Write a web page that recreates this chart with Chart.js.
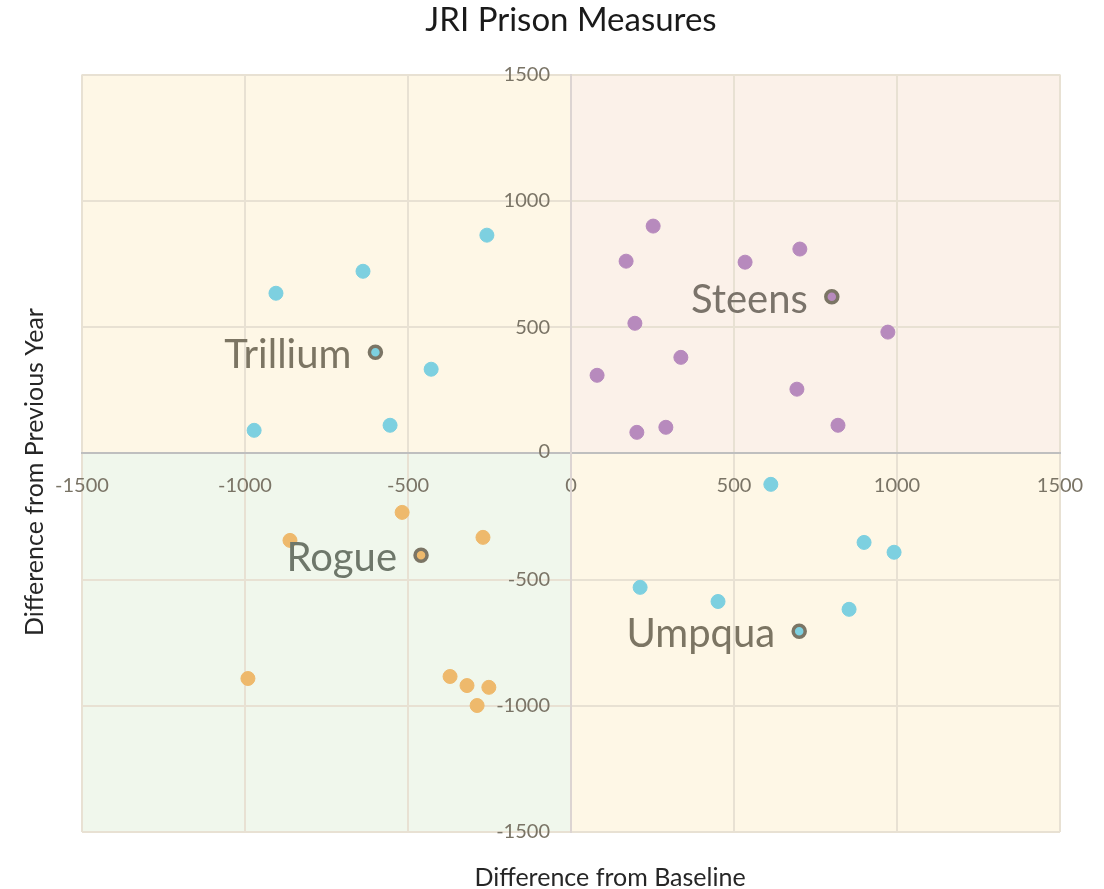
<!DOCTYPE html>
<html>
<head>
<meta charset="utf-8">
<script src="https://cdn.jsdelivr.net/npm/chart.js@4"></script>
<style>
  body { margin: 0; background: #fff; }
  #wrap { width: 1104px; height: 889px; }
</style>
</head>
<body>
<div id="wrap"><canvas id="quadChart"></canvas></div>
<script>
// region points
var trilliumX = [-905, -638, -258, -429, -555, -972];
var trilliumY = [634, 721, 864, 333, 111, 91];
var steensX = [252, 169, 534, 702, 196, 972, 337, 80, 693, 202, 291, 819];
var steensY = [900, 761, 757, 809, 515, 480, 380, 309, 254, 83, 103, 111];
var rogueX = [-518, -862, -270, -991, -371, -319, -252, -288];
var rogueY = [-234, -345, -333, -892, -884, -920, -927, -999];
var umpquaX = [613, 899, 991, 212, 451, 853];
var umpquaY = [-123, -353, -392, -531, -587, -618];

// region centres
var regionNames = ["Trillium", "Steens", "Rogue", "Umpqua"];
var centerX = [-600, 800, -460, 700];
var centerY = [400, 620, -404, -705];

var axisTicks = [-1500, -1000, -500, 0, 500, 1000, 1500];

var cyan = "#7dd0e0";
var purple = "#b78abd";
var orange = "#eeb96c";
var ring = "#7b7565";
var tickColor = "#7a7466";
var labelColors = ["#7c7563", "#7a736a", "#6e776a", "#7c7563"];
var fontName = "Lato, 'Noto Sans', sans-serif";

function toPoints(xs, ys) {
  return xs.map(function (x, i) { return { x: x, y: ys[i] }; });
}

var quadrants = {
  id: "quadrants",
  beforeDraw: function (chart) {
    var c = chart.ctx, a = chart.chartArea;
    var x0 = chart.scales.x.getPixelForValue(0);
    var y0 = chart.scales.y.getPixelForValue(0);
    c.save();
    c.fillStyle = "#fef7e6"; c.fillRect(a.left, a.top, x0 - a.left, y0 - a.top);
    c.fillStyle = "#fbf1e9"; c.fillRect(x0, a.top, a.right - x0, y0 - a.top);
    c.fillStyle = "#f0f7ec"; c.fillRect(a.left, y0, x0 - a.left, a.bottom - y0);
    c.fillStyle = "#fef7e6"; c.fillRect(x0, y0, a.right - x0, a.bottom - y0);
    c.restore();
  },
  afterDatasetsDraw: function (chart) {
    var c = chart.ctx;
    var ys = chart.scales.y;
    var x0 = chart.scales.x.getPixelForValue(0);
    c.save();
    // y tick labels, left of the vertical axis
    c.font = "20px " + fontName;
    c.fillStyle = tickColor;
    c.textAlign = "right";
    c.textBaseline = "middle";
    ys.ticks.forEach(function (t) {
      c.fillText(String(t.value), x0 - 21, ys.getPixelForValue(t.value) - (t.value === 0 ? 2 : 0));
    });
    // region names
    var meta = chart.getDatasetMeta(4);
    c.font = "40px " + fontName;
    meta.data.forEach(function (pt, i) {
      c.fillStyle = labelColors[i];
      c.fillText(regionNames[i], pt.x - 24, pt.y + 3);
    });
    // axis titles
    c.fillStyle = "#262626";
    c.font = "25px " + fontName;
    c.textAlign = "center";
    c.fillText("Difference from Baseline", 610, 878);
    c.translate(35, 472);
    c.rotate(-Math.PI / 2);
    c.fillText("Difference from Previous Year", 0, 0);
    c.restore();
  }
};

var ctx = document.getElementById("quadChart").getContext("2d");

var MyChart = new Chart(ctx, {
  type: "scatter",
  data: {
    datasets: [
      { label: "Trillium", data: toPoints(trilliumX, trilliumY), backgroundColor: cyan, borderColor: cyan },
      { label: "Steens", data: toPoints(steensX, steensY), backgroundColor: purple, borderColor: purple },
      { label: "Rogue", data: toPoints(rogueX, rogueY), backgroundColor: orange, borderColor: orange },
      { label: "Umpqua", data: toPoints(umpquaX, umpquaY), backgroundColor: cyan, borderColor: cyan },
      {
        label: "Centres",
        data: toPoints(centerX, centerY),
        backgroundColor: [cyan, purple, orange, cyan],
        borderColor: ring,
        borderWidth: 3.5,
        pointRadius: 6,
        pointHoverRadius: 6
      }
    ]
  },
  options: {
    responsive: true,
    maintainAspectRatio: false,
    animation: false,
    clip: false,
    elements: {
      point: { radius: 7, hoverRadius: 7, borderWidth: 1 }
    },
    layout: { padding: { left: 82, right: 44, top: 0, bottom: 57 } },
    plugins: {
      legend: { display: false },
      tooltip: { enabled: false },
      title: {
        display: true,
        text: "JRI Prison Measures",
        color: "#1a1a1a",
        font: { family: fontName, size: 33, weight: "normal" },
        padding: { top: 1, bottom: 34 }
      }
    },
    scales: {
      x: {
        type: "linear",
        position: { y: 0 },
        min: -1500,
        max: 1500,
        afterBuildTicks: function (s) { s.ticks = axisTicks.map(function (v) { return { value: v }; }); },
        grid: { color: "#e8e1d3", lineWidth: 2, drawTicks: false },
        border: { display: true, color: "#bfbfbf", width: 2 },
        ticks: {
          color: tickColor, padding: 20, maxRotation: 0,
          font: { family: fontName, size: 20 },
          callback: function (v) { return String(v); }
        }
      },
      y: {
        type: "linear",
        position: { x: 0 },
        min: -1500,
        max: 1500,
        afterBuildTicks: function (s) { s.ticks = axisTicks.map(function (v) { return { value: v }; }); },
        grid: { color: "#e8e1d3", lineWidth: 2, drawTicks: false },
        border: { display: true, color: "#dcd4d2", width: 2 },
        ticks: { display: false }
      }
    }
  },
  plugins: [quadrants]
});
</script>
</body>
</html>
